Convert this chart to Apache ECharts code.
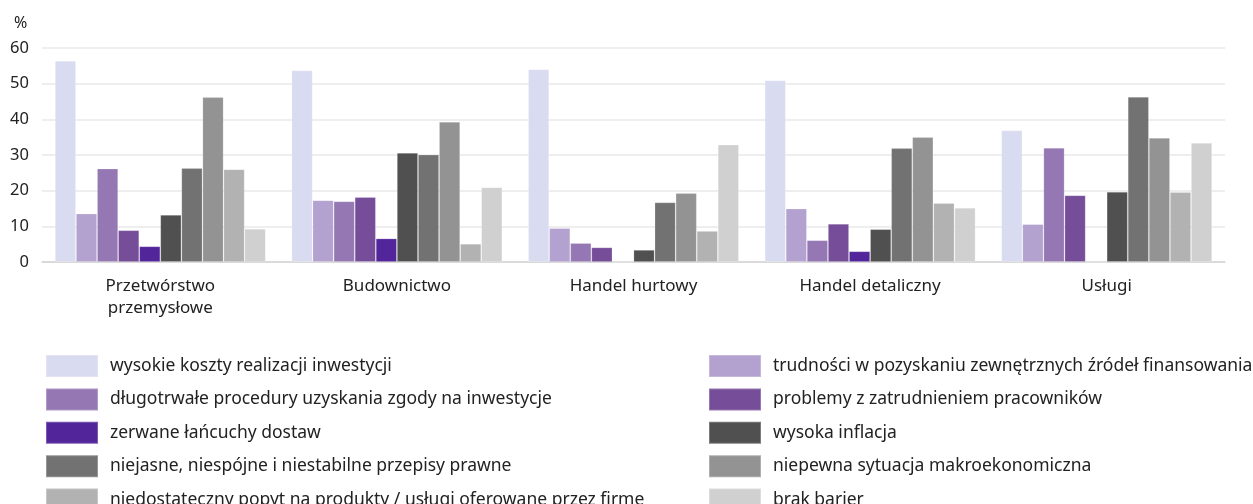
<!DOCTYPE html>
<html>
<head>
<meta charset="utf-8">
<script src="https://cdn.jsdelivr.net/npm/echarts@6/dist/echarts.min.js"></script>
<style>
html,body{margin:0;padding:0;background:#fff;}
#chart{width:1253px;height:504px;}
</style>
</head>
<body>
<div id="chart"></div>
<script>
// kategorie (sekcje)
var categories = ['Przetwórstwo\nprzemysłowe', 'Budownictwo', 'Handel hurtowy', 'Handel detaliczny', 'Usługi'];
var yTicks = [0, 10, 20, 30, 40, 50, 60];

var seriesNames = [
    'wysokie koszty realizacji inwestycji',
    'trudności w pozyskaniu zewnętrznych źródeł finansowania',
    'długotrwałe procedury uzyskania zgody na inwestycje',
    'problemy z zatrudnieniem pracowników',
    'zerwane łańcuchy dostaw',
    'wysoka inflacja',
    'niejasne, niespójne i niestabilne przepisy prawne',
    'niepewna sytuacja makroekonomiczna',
    'niedostateczny popyt na produkty / usługi oferowane przez firmę',
    'brak barier'
];
var seriesColors = ['#d9dbf0', '#b3a1cf', '#9477b3', '#764d99', '#52259a', '#505050', '#727272', '#939393', '#b2b2b2', '#d0d0d0'];

// wartości w % dla kolejnych sekcji
var kosztyInwestycji = [56.4, 53.7, 54.0, 50.9, 36.9];
var finansowanie = [13.6, 17.3, 9.5, 15.0, 10.6];
var procedury = [26.2, 17.0, 5.3, 6.1, 32.0];
var zatrudnienie = [8.9, 18.2, 4.1, 10.7, 18.7];
var lancuchyDostaw = [4.4, 6.6, 0, 3.0, 0];
var inflacja = [13.2, 30.6, 3.4, 9.2, 19.7];
var przepisy = [26.3, 30.1, 16.7, 31.9, 46.3];
var makro = [46.2, 39.3, 19.3, 35.0, 34.8];
var popyt = [26.0, 5.1, 8.7, 16.5, 19.6];
var brakBarier = [9.3, 20.9, 32.9, 15.2, 33.4];

var seriesValues = [kosztyInwestycji, finansowanie, procedury, zatrudnienie, lancuchyDostaw, inflacja, przepisy, makro, popyt, brakBarier];

var font = 'Noto Sans';
var series = [];
for (var i = 0; i < seriesNames.length; i++) {
    series.push({
        name: seriesNames[i],
        type: 'bar',
        barGap: '0%',
        barCategoryGap: '10.9%',
        data: seriesValues[i],
        itemStyle: {
            color: seriesColors[i],
            borderColor: 'rgba(255,255,255,0.25)',
            borderWidth: 0.8
        },
        emphasis: { disabled: true }
    });
}

// legenda w dwóch kolumnach
var leftNames = [], rightNames = [];
for (var j = 0; j < seriesNames.length; j++) {
    if (j % 2 == 0) leftNames.push(seriesNames[j]); else rightNames.push(seriesNames[j]);
}
function legendCol(left, names) {
    return {
        orient: 'vertical',
        left: left,
        top: 354,
        height: 300,
        padding: 0,
        itemWidth: 52,
        itemHeight: 22,
        itemGap: 9.4,
        icon: 'rect',
        selectedMode: false,
        data: names,
        textStyle: { fontFamily: font, fontSize: 17.5, lineHeight: 22, color: '#222', padding: [0, 0, 0, 7] }
    };
}

var chart = echarts.init(document.getElementById('chart'));
var option = {
    animation: false,
    title: {
        text: '%',
        left: 9,
        top: 10,
        textStyle: { fontFamily: font, fontSize: 16, fontWeight: 'normal', color: '#222' }
    },
    legend: [legendCol(45, leftNames), legendCol(708, rightNames)],
    grid: {
        left: 42,
        right: 28,
        top: 48,
        height: 214,
        containLabel: false
    },
    xAxis: {
        type: 'category',
        data: categories,
        axisTick: { show: false },
        axisLine: { lineStyle: { color: '#d4d4d4', width: 1.5 } },
        axisLabel: {
            fontFamily: font,
            fontSize: 17,
            color: '#222',
            margin: 13,
            lineHeight: 22
        }
    },
    yAxis: {
        type: 'value',
        min: yTicks[0],
        max: yTicks[yTicks.length - 1],
        interval: 10,
        axisLabel: {
            fontFamily: font,
            fontSize: 16.5,
            color: '#222',
            margin: 13
        },
        splitLine: { lineStyle: { color: '#e8e8e8', width: 1.5 } }
    },
    series: series
};
chart.setOption(option);
</script>
</body>
</html>
